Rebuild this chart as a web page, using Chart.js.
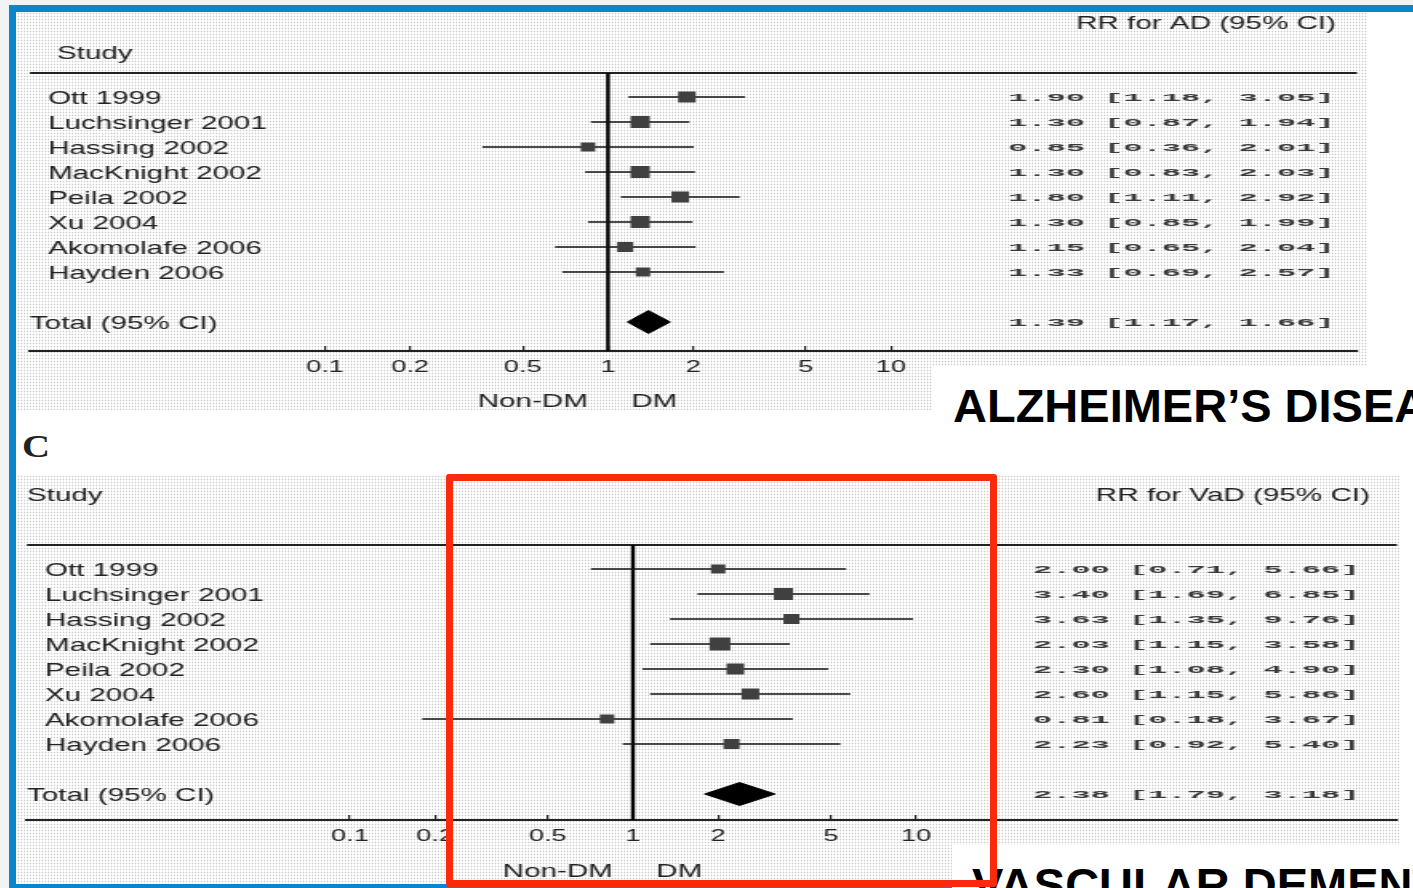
<!DOCTYPE html>
<html>
<head>
<meta charset="utf-8">
<script src="https://cdn.jsdelivr.net/npm/chart.js"></script>
<style>
  html, body { margin: 0; padding: 0; }
  body { width: 1413px; height: 888px; overflow: hidden; position: relative; background: #f3f3f3; font-family: "Liberation Sans", Arial, sans-serif; }
  #frame { position: absolute; left: 9px; top: 5px; width: 1420px; height: 886px; box-sizing: border-box; border: 7px solid #0a86cf; border-right: none; background: #fff; }
  .dots { position: absolute; background-color: #fff; background-image: radial-gradient(circle, #cdcdcd 0.7px, transparent 1.1px); background-size: 3px 3px; }
  .dots canvas { position: absolute; left: 0; top: 0; transform: scaleX(1.6); transform-origin: 0 0; }
  #p1 { left: 17px; top: 12px; width: 1350px; height: 398px; }
  #p2 { left: 17px; top: 475px; width: 1383px; height: 409px; }
  #letterC { position: absolute; left: 22px; top: 429px; font: bold 31px "Liberation Serif", "Times New Roman", serif; color: #222; transform: scaleX(1.25); transform-origin: 0 0; }
  .cover { position: absolute; background: #fff; }
  .title { position: absolute; font: bold 47px "Liberation Sans", Arial, sans-serif; line-height: 47px; color: #000; white-space: nowrap; }
  #redbox { position: absolute; left: 446px; top: 474px; width: 551px; height: 413px; box-sizing: border-box; border: 7px solid #fb2a0c; border-radius: 3px; }
</style>
</head>
<body>
<div id="frame"></div>
<div class="dots" id="p1"><canvas id="chartAD" width="844" height="398"></canvas></div>
<div id="letterC">C</div>
<div class="dots" id="p2"><canvas id="chartVaD" width="864" height="413"></canvas></div>
<div class="cover" style="left:932px; top:366px; width:500px; height:78px;"></div>
<div class="title" style="left:953px; top:382px;">ALZHEIMER’S DISEASE</div>
<div class="cover" style="left:952px; top:845px; width:500px; height:60px;"></div>
<div class="title" style="left:972px; top:861px;">VASCULAR DEMENTIA</div>
<div id="redbox"></div>

<script>
// estudos (mesma ordem nos dois gráficos)
const studies = ['Ott 1999', 'Luchsinger 2001', 'Hassing 2002', 'MacKnight 2002', 'Peila 2002', 'Xu 2004', 'Akomolafe 2006', 'Hayden 2006'];
const tickValues = [0.1, 0.2, 0.5, 1, 2, 5, 10];
const tickLabels = ['0.1', '0.2', '0.5', '1', '2', '5', '10'];

// ================= ALZHEIMER (AD) =================
const adRR     = [1.90, 1.30, 0.85, 1.30, 1.80, 1.30, 1.15, 1.33];
const adLow    = [1.18, 0.87, 0.36, 0.83, 1.11, 0.85, 0.65, 0.69];
const adHigh   = [3.05, 1.94, 2.01, 2.03, 2.92, 1.99, 2.04, 2.57];
const adWeight = [11, 12, 9, 12, 11, 12, 10, 9];
const adTotal  = [1.39, 1.17, 1.66];

// ================= VASCULAR (VaD) =================
const vadRR     = [2.00, 3.40, 3.63, 2.03, 2.30, 2.60, 0.81, 2.23];
const vadLow    = [0.71, 1.69, 1.35, 1.15, 1.08, 1.15, 0.18, 0.92];
const vadHigh   = [5.66, 6.85, 9.76, 3.58, 4.90, 5.86, 3.67, 5.40];
const vadWeight = [9, 12, 10, 13, 11, 11, 9, 10];
const vadTotal  = [2.38, 1.79, 3.18];

const TOTAL_ROW = 9;
const fmt = v => v.toFixed(2);

// textos desenhados no canvas (nomes, cabeçalhos, valores)
const forestText = {
  id: 'forestText',
  afterDraw(chart, args, o) {
    const ctx = chart.ctx;
    const x = chart.scales.x, y = chart.scales.y;
    const py = v => y.getPixelForValue(v) + 2; // ajuste visual do texto
    ctx.save();
    ctx.fillStyle = '#222';
    ctx.textBaseline = 'middle';
    ctx.font = '18.5px "Liberation Sans", Arial, sans-serif';
    ctx.textAlign = 'left';
    ctx.fillText('Study', o.studyX, py(o.studyRow));
    studies.forEach((s, i) => ctx.fillText(s, o.nameX, py(i)));
    ctx.fillText('Total (95% CI)', o.totalX, py(TOTAL_ROW));
    ctx.textAlign = 'right';
    ctx.fillText(o.header, o.headerX, py(-3));
    ctx.textAlign = 'center';
    const x1 = x.getPixelForValue(1);
    ctx.fillText('Non-DM', x1 - 47, py(o.footRow));
    ctx.fillText('DM', x1 + 29, py(o.footRow));

    // coluna de valores, fonte mono bem larga
    ctx.font = 'bold 11.5px "Liberation Mono", "DejaVu Sans Mono", monospace';
    ctx.textAlign = 'left';
    ctx.fillStyle = '#3a3a3a';
    const rows = o.rr.map((v, i) => [i, fmt(v) + ' [' + fmt(o.low[i]) + ', ' + fmt(o.high[i]) + ']']);
    rows.push([TOTAL_ROW, fmt(o.total[0]) + ' [' + fmt(o.total[1]) + ', ' + fmt(o.total[2]) + ']']);
    rows.forEach(([i, str]) => {
      ctx.save();
      ctx.translate(o.numX, py(i) - 0.5);
      ctx.scale(1.74, 1);
      ctx.fillText(str, 0, 0);
      ctx.restore();
    });
    ctx.restore();
  }
};

function makeForest(id, rr, low, high, weight, total, lay) {
  const datasets = [];

  // quadrados (peso do estudo)
  datasets.push({
    data: rr.map((v, i) => ({ x: v, y: i })),
    showLine: false,
    pointStyle: 'rect',
    pointRadius: weight.map(w => w / 1.414),
    pointBackgroundColor: '#404040',
    pointBorderWidth: 0,
    order: 0
  });

  // diamante do total
  const h = 0.46;
  datasets.push({
    data: [
      { x: total[1], y: TOTAL_ROW }, { x: total[0], y: TOTAL_ROW - h },
      { x: total[2], y: TOTAL_ROW }, { x: total[0], y: TOTAL_ROW + h },
      { x: total[1], y: TOTAL_ROW }
    ],
    fill: 'shape',
    backgroundColor: '#000',
    borderColor: '#000',
    borderWidth: 1,
    pointRadius: 0,
    order: 1
  });

  // intervalos de confiança
  rr.forEach((v, i) => {
    datasets.push({
      data: [{ x: low[i], y: i }, { x: high[i], y: i }],
      borderColor: '#111',
      borderWidth: 1.4,
      pointRadius: 0,
      order: 2
    });
  });

  // linha vertical em RR = 1
  datasets.push({
    data: [{ x: 1, y: lay.yMin }, { x: 1, y: lay.yMax }],
    borderColor: '#000',
    borderWidth: 2.4,
    pointRadius: 0,
    clip: false,
    order: 3
  });

  // linha horizontal do cabeçalho
  datasets.push({
    data: [{ x: lay.xMin, y: lay.yMin }, { x: lay.xMax, y: lay.yMin }],
    borderColor: '#222',
    borderWidth: 2,
    pointRadius: 0,
    clip: false,
    order: 3
  });

  new Chart(document.getElementById(id), {
    type: 'line',
    data: { datasets },
    plugins: [forestText],
    options: {
      responsive: false,
      animation: false,
      events: [],
      layout: { padding: lay.padding, autoPadding: false },
      plugins: {
        legend: { display: false },
        tooltip: { enabled: false },
        forestText: {
          rr, low, high, total,
          header: lay.header, headerX: lay.headerX,
          studyX: lay.studyX, studyRow: lay.studyRow,
          nameX: lay.nameX, totalX: lay.totalX,
          numX: lay.numX, footRow: lay.footRow
        }
      },
      scales: {
        x: {
          type: 'logarithmic',
          min: lay.xMin,
          max: lay.xMax,
          afterBuildTicks: axis => { axis.ticks = tickValues.map(v => ({ value: v })); },
          afterFit: axis => {
            axis.height = lay.axisHeight;
            axis.paddingLeft = 0;
            axis.paddingRight = 0;
          },
          ticks: {
            autoSkip: false,
            maxRotation: 0,
            padding: 11,
            color: '#222',
            font: { family: '"Liberation Sans", Arial, sans-serif', size: 17 },
            callback: v => { const k = tickValues.indexOf(v); return k < 0 ? '' : tickLabels[k]; }
          },
          // marcas viradas para cima, como no original
          grid: { drawOnChartArea: false, drawTicks: true, tickLength: -5, color: '#222', lineWidth: 1.2 },
          border: { display: true, color: '#222', width: 2 }
        },
        y: {
          type: 'linear',
          display: false,
          reverse: true,
          min: lay.yMin,
          max: lay.yMax
        }
      }
    }
  });
}

makeForest('chartAD', adRR, adLow, adHigh, adWeight, adTotal, {
  padding: { left: 8.1, right: 6.5, top: 61, bottom: 0 },
  axisHeight: 59,
  xMin: 0.00907, xMax: 443,
  yMin: -0.96, yMax: 10.16,
  header: 'RR for AD (95% CI)', headerX: 824.4,
  studyX: 25, studyRow: -1.8,
  nameX: 19.4, totalX: 8.1,
  numX: 619.4, footRow: 12.12
});

makeForest('chartVaD', vadRR, vadLow, vadHigh, vadWeight, vadTotal, {
  padding: { left: 6.25, right: 1.5, top: 70, bottom: 0 },
  axisHeight: 68,
  xMin: 0.00723, xMax: 500,
  yMin: -0.96, yMax: 10.04,
  header: 'RR for VaD (95% CI)', headerX: 845.6,
  studyX: 6.25, studyRow: -3,
  nameX: 17.5, totalX: 6.25,
  numX: 635, footRow: 12.04
});
</script>
</body>
</html>
